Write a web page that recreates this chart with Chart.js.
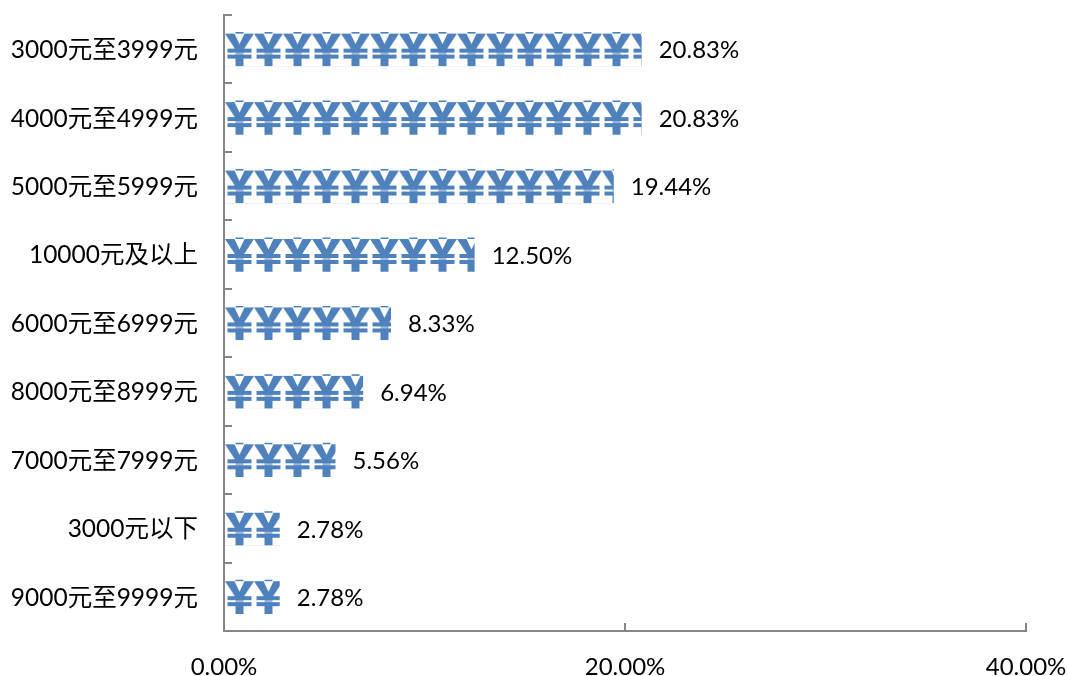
<!DOCTYPE html>
<html>
<head>
<meta charset="utf-8">
<style>
html, body { margin: 0; padding: 0; background: #fff; }
#wrap { width: 1068px; height: 676px; }
</style>
<script src="https://cdn.jsdelivr.net/npm/chart.js@4/dist/chart.umd.min.js"></script>
</head>
<body>
<div id="wrap"><canvas id="payChart" width="1068" height="676"></canvas></div>
<script>
var categories = [
    "3000元至3999元", "4000元至4999元", "5000元至5999元",
    "10000元及以上", "6000元至6999元", "8000元至8999元",
    "7000元至7999元", "3000元以下", "9000元至9999元"
];
var shares = [20.83, 20.83, 19.44, 12.5, 8.33, 6.94, 5.56, 2.78, 2.78];
var xTicks = [0, 20, 40];

var fontFamily = "Lato, 'Noto Sans CJK SC', sans-serif";
var axisGrey = "#868686";
var yenBlue = "#4f81bd";

// one yen sign, repeated along each bar as a picture fill
function makeYenTile() {
    var tile = document.createElement("canvas");
    tile.width = 29;
    tile.height = 33;
    var c = tile.getContext("2d");
    c.fillStyle = yenBlue;
    c.beginPath();
    c.moveTo(0, 0); c.lineTo(9.5, 0); c.lineTo(14.5, 10.5); c.lineTo(19.5, 0); c.lineTo(29, 0);
    c.lineTo(18.5, 16); c.lineTo(18.5, 33); c.lineTo(10.5, 33); c.lineTo(10.5, 16);
    c.closePath();
    c.fill();
    c.fillRect(2.5, 15, 24, 4);
    c.fillRect(2.5, 21, 24, 4);
    c.fillStyle = "rgba(255,255,255,0.55)";
    c.fillRect(2.5, 19.2, 24, 1.6);
    return tile;
}
var yenTile = makeYenTile();

function yenFill(ctx) {
    if (ctx.dataIndex === undefined) return yenBlue;
    var chart = ctx.chart;
    var pattern = chart.ctx.createPattern(yenTile, "repeat");
    var left = chart.scales.x.getPixelForValue(0) + 1;
    var top = chart.scales.y.getPixelForValue(ctx.dataIndex) - 15.6;
    pattern.setTransform(new DOMMatrix().translate(left, top));
    return pattern;
}

var valueLabels = {
    id: "valueLabels",
    afterDatasetsDraw: function (chart) {
        var c = chart.ctx;
        c.save();
        c.font = "24px " + fontFamily;
        c.fillStyle = "#000";
        c.textAlign = "left";
        c.textBaseline = "middle";
        chart.getDatasetMeta(0).data.forEach(function (bar, i) {
            c.fillText(shares[i].toFixed(2) + "%", bar.x + 17, bar.y + 1.5);
        });
        c.restore();
    }
};

// stop the scales asking for extra room for half labels
function noMargins(s) {
    s.paddingLeft = 0;
    s.paddingRight = 0;
    s.paddingTop = 0;
    s.paddingBottom = 0;
}

new Chart(document.getElementById("payChart"), {
    type: "bar",
    data: {
        labels: categories,
        datasets: [{
            data: shares,
            backgroundColor: yenFill,
            barPercentage: 0.5,
            categoryPercentage: 1
        }]
    },
    options: {
        indexAxis: "y",
        responsive: false,
        animation: false,
        layout: { padding: { top: 15, right: 42, left: 0, bottom: 0 } },
        plugins: { legend: { display: false }, tooltip: { enabled: false } },
        scales: {
            x: {
                min: 0,
                max: 40,
                afterFit: function (s) { s.height = 45; noMargins(s); },
                afterBuildTicks: function (s) {
                    s.ticks = xTicks.map(function (v) { return { value: v }; });
                },
                grid: { drawOnChartArea: false, color: axisGrey, lineWidth: 2, tickLength: -8 },
                border: { color: axisGrey, width: 2 },
                ticks: {
                    color: "#000",
                    maxRotation: 0,
                    padding: 30,
                    font: { family: fontFamily, size: 24 },
                    callback: function (v) { return v.toFixed(2) + "%"; }
                }
            },
            y: {
                afterFit: function (s) { s.width = 224; noMargins(s); },
                grid: { drawOnChartArea: false, color: axisGrey, lineWidth: 2, tickLength: -8 },
                border: { color: axisGrey, width: 2 },
                ticks: {
                    color: "#000",
                    padding: 34,
                    labelOffset: 1,
                    autoSkip: false,
                    font: { family: fontFamily, size: 24.5 }
                }
            }
        }
    },
    plugins: [valueLabels]
});
</script>
</body>
</html>
